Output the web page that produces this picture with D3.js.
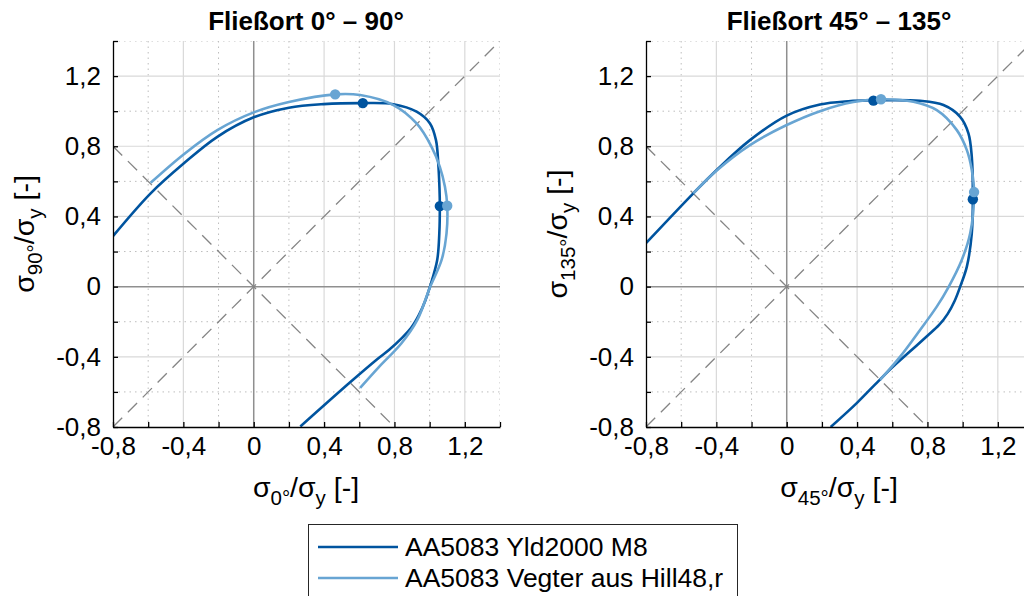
<!DOCTYPE html>
<html>
<head>
<meta charset="utf-8">
<script src="https://cdn.jsdelivr.net/npm/d3@7"></script>
<style>
  body { margin: 0; background: #fff; }
  svg { display: block; font-family: "Liberation Sans", Arial, sans-serif; }
</style>
</head>
<body>
<svg id="chart" width="1024" height="596"></svg>
<script>
// ---------- data ----------
const panelTitles = ["Fließort 0° – 90°", "Fließort 45° – 135°"];
const xLabelSubs = ["0°", "45°"];
const yLabelSubs = ["90°", "135°"];
const seriesNames = ["AA5083 Yld2000 M8", "AA5083 Vegter aus Hill48,r"];
const seriesColors = ["#00549f", "#68a5d3"];
const tickValues = [-0.8, -0.4, 0, 0.4, 0.8, 1.2];
const tickLabels = ["-0,8", "-0,4", "0", "0,4", "0,8", "1,2"];
const minorTicks = [-0.8, -0.6, -0.4, -0.2, 0, 0.2, 0.4, 0.6, 0.8, 1.0, 1.2, 1.4];

// panel 1 (0° - 90°), Yld2000 M8
const yld_0_90 = [
  [-0.80, 0.288], [-0.586, 0.532], [-0.397, 0.703], [-0.207, 0.854], [0, 0.965],
  [0.20, 1.020], [0.397, 1.040], [0.620, 1.046], [0.794, 1.040], [0.926, 0.997],
  [1.002, 0.930], [1.036, 0.835], [1.049, 0.703], [1.056, 0.56], [1.058, 0.459],
  [1.055, 0.304], [1.043, 0.152], [1.002, 0.0], [0.975, -0.08], [0.94, -0.16],
  [0.895, -0.235], [0.84, -0.295], [0.77, -0.36], [0.70, -0.415], [0.548, -0.545],
  [0.265, -0.797]
];
// panel 1 (0° - 90°), Vegter aus Hill48,r
const veg_0_90 = [
  [-0.586, 0.592], [-0.397, 0.755], [-0.207, 0.892], [0, 0.993], [0.20, 1.052],
  [0.463, 1.096], [0.605, 1.092], [0.794, 1.035], [0.926, 0.930], [1.011, 0.797],
  [1.058, 0.683], [1.087, 0.569], [1.100, 0.461], [1.096, 0.304], [1.068, 0.152],
  [1.002, -0.004], [0.93, -0.19], [0.84, -0.323], [0.71, -0.46], [0.605, -0.577]
];
// panel 2 (45° - 135°), Yld2000 M8
const yld_45_135 = [
  [-0.80, 0.248], [-0.531, 0.532], [-0.398, 0.665], [-0.209, 0.835], [0, 0.975],
  [0.189, 1.038], [0.35, 1.057], [0.493, 1.062], [0.758, 1.059], [0.891, 1.035],
  [0.986, 0.968], [1.033, 0.874], [1.052, 0.740], [1.058, 0.498], [1.052, 0.304],
  [1.024, 0.114], [0.986, 0.0], [0.955, -0.08], [0.915, -0.155], [0.865, -0.22],
  [0.80, -0.28], [0.70, -0.37], [0.60, -0.46], [0.50, -0.56], [0.398, -0.664],
  [0.25, -0.80]
];
// panel 2 (45° - 135°), Vegter aus Hill48,r
const veg_45_135 = [
  [-0.531, 0.532], [-0.398, 0.662], [-0.209, 0.807], [0, 0.921], [0.189, 1.000],
  [0.379, 1.052], [0.536, 1.068], [0.720, 1.054], [0.853, 1.006], [0.967, 0.892],
  [1.024, 0.778], [1.052, 0.665], [1.065, 0.539], [1.043, 0.304], [0.995, 0.152],
  [0.919, -0.004], [0.853, -0.114], [0.758, -0.247], [0.645, -0.399], [0.531, -0.531]
];
// marked points
const yldPts_0_90 = [[0.620, 1.046], [1.058, 0.459]];
const vegPts_0_90 = [[0.463, 1.096], [1.100, 0.461]];
const yldPts_45_135 = [[0.493, 1.060], [1.058, 0.498]];
const vegPts_45_135 = [[0.536, 1.068], [1.065, 0.539]];

const panels = [
  { left: 113, title: panelTitles[0], xs: xLabelSubs[0], ys: yLabelSubs[0],
    curves: [yld_0_90, veg_0_90], pts: [yldPts_0_90, vegPts_0_90] },
  { left: 646, title: panelTitles[1], xs: xLabelSubs[1], ys: yLabelSubs[1],
    curves: [yld_45_135, veg_45_135], pts: [yldPts_45_135, vegPts_45_135] }
];

// ---------- drawing ----------
const svg = d3.select("#chart");
const W = 387, plotTop = 41, plotBottom = 427;
const domain = [-0.8, 1.4];
const fs = 26;
const labFs = 28.5, subFs = 20.5, subDy = 8;

panels.forEach((p, i) => {
  const x = d3.scaleLinear().domain(domain).range([p.left, p.left + W]);
  const y = d3.scaleLinear().domain(domain).range([plotBottom, plotTop]);
  const g = svg.append("g");

  const clipId = "clip" + i;
  svg.append("clipPath").attr("id", clipId).append("rect")
    .attr("x", p.left).attr("y", plotTop).attr("width", W).attr("height", plotBottom - plotTop);
  const inner = g.append("g").attr("clip-path", `url(#${clipId})`);

  // minor grid (dotted)
  const minors = minorTicks.filter(v => !tickValues.some(t => Math.abs(t - v) < 1e-9));
  minors.forEach(v => {
    inner.append("line").attr("x1", x(v)).attr("x2", x(v)).attr("y1", plotTop).attr("y2", plotBottom)
      .attr("stroke", "#bdbdbd").attr("stroke-width", 1).attr("stroke-dasharray", "1.5,4");
    inner.append("line").attr("y1", y(v)).attr("y2", y(v)).attr("x1", p.left).attr("x2", p.left + W)
      .attr("stroke", "#bdbdbd").attr("stroke-width", 1).attr("stroke-dasharray", "1.5,4");
  });
  // major grid
  tickValues.filter(v => v !== 0 && v !== -0.8).forEach(v => {
    inner.append("line").attr("x1", x(v)).attr("x2", x(v)).attr("y1", plotTop).attr("y2", plotBottom)
      .attr("stroke", "#d9d9d9").attr("stroke-width", 1.2);
    inner.append("line").attr("y1", y(v)).attr("y2", y(v)).attr("x1", p.left).attr("x2", p.left + W)
      .attr("stroke", "#d9d9d9").attr("stroke-width", 1.2);
  });
  // zero lines
  inner.append("line").attr("x1", x(0)).attr("x2", x(0)).attr("y1", plotTop).attr("y2", plotBottom)
    .attr("stroke", "#8f8f8f").attr("stroke-width", 1.5);
  inner.append("line").attr("y1", y(0)).attr("y2", y(0)).attr("x1", p.left).attr("x2", p.left + W)
    .attr("stroke", "#8f8f8f").attr("stroke-width", 1.5);
  // diagonals
  inner.append("line").attr("x1", x(-0.8)).attr("y1", y(-0.8)).attr("x2", x(1.4)).attr("y2", y(1.4))
    .attr("stroke", "#858585").attr("stroke-width", 1.3).attr("stroke-dasharray", "13,8");
  inner.append("line").attr("x1", x(-0.8)).attr("y1", y(0.8)).attr("x2", x(0.8)).attr("y2", y(-0.8))
    .attr("stroke", "#858585").attr("stroke-width", 1.3).attr("stroke-dasharray", "13,8");

  // curves
  const line = d3.line().x(d => x(d[0])).y(d => y(d[1])).curve(d3.curveCatmullRom.alpha(0.5));
  p.curves.forEach((c, k) => {
    inner.append("path").datum(c).attr("d", line).attr("fill", "none")
      .attr("stroke", seriesColors[k]).attr("stroke-width", 2.6);
  });
  p.pts.forEach((pts, k) => {
    inner.selectAll(null).data(pts).enter().append("circle")
      .attr("cx", d => x(d[0])).attr("cy", d => y(d[1])).attr("r", 5.2)
      .attr("fill", seriesColors[k]);
  });

  // axes
  const fmt = d => { const j = tickValues.findIndex(t => Math.abs(t - d) < 1e-9); return j >= 0 ? tickLabels[j] : ""; };
  const xAxis = d3.axisBottom(x).tickValues(minorTicks).tickSizeInner(-5).tickSizeOuter(0).tickFormat(fmt);
  const gx = g.append("g").attr("transform", `translate(0,${plotBottom})`).call(xAxis);
  gx.select(".domain").attr("stroke", "#000").attr("stroke-width", 1.3);
  gx.selectAll(".tick line").attr("stroke", "#000").attr("stroke-width", 1.3);
  gx.selectAll(".tick text").attr("font-size", fs).attr("fill", "#000").attr("y", 10).attr("dy", "0.71em")
    .attr("font-family", "Liberation Sans, Arial, sans-serif");

  const yAxis = d3.axisLeft(y).tickValues(minorTicks).tickSizeInner(-5).tickSizeOuter(0).tickFormat(fmt);
  const gy = g.append("g").attr("transform", `translate(${p.left},0)`).call(yAxis);
  gy.select(".domain").attr("stroke", "#000").attr("stroke-width", 1.3);
  gy.selectAll(".tick line").attr("stroke", "#000").attr("stroke-width", 1.3);
  gy.selectAll(".tick text").attr("font-size", fs).attr("fill", "#000").attr("x", -12)
    .attr("font-family", "Liberation Sans, Arial, sans-serif");

  // title
  g.append("text").attr("x", p.left + 193).attr("y", 30).attr("text-anchor", "middle")
    .attr("font-size", 26).attr("font-weight", "bold").text(p.title);

  // x label
  const xl = g.append("text").attr("x", p.left + 193).attr("y", 497).attr("text-anchor", "middle")
    .attr("font-size", labFs);
  xl.append("tspan").text("σ");
  xl.append("tspan").attr("font-size", subFs).attr("dy", subDy).text(p.xs);
  xl.append("tspan").attr("dy", -subDy).text("/σ");
  xl.append("tspan").attr("font-size", subFs).attr("dy", subDy).text("y");
  xl.append("tspan").attr("dy", -subDy).text(" [-]");

  // y label
  const yl = g.append("text").attr("transform", `translate(${p.left - 79},234) rotate(-90)`)
    .attr("text-anchor", "middle").attr("font-size", labFs);
  yl.append("tspan").text("σ");
  yl.append("tspan").attr("font-size", subFs).attr("dy", subDy).text(p.ys);
  yl.append("tspan").attr("dy", -subDy).text("/σ");
  yl.append("tspan").attr("font-size", subFs).attr("dy", subDy).text("y");
  yl.append("tspan").attr("dy", -subDy).text(" [-]");
});

// legend
const lg = svg.append("g");
lg.append("rect").attr("x", 308.5).attr("y", 524.5).attr("width", 429).attr("height", 80)
  .attr("fill", "#fff").attr("stroke", "#262626").attr("stroke-width", 1);
seriesNames.forEach((n, k) => {
  const yy = 547 + k * 31;
  lg.append("line").attr("x1", 318).attr("x2", 398).attr("y1", yy).attr("y2", yy)
    .attr("stroke", seriesColors[k]).attr("stroke-width", 2.6);
  lg.append("text").attr("x", 405).attr("y", yy + 9).attr("font-size", 26.5).attr("fill", "#000").text(n);
});
</script>
</body>
</html>
